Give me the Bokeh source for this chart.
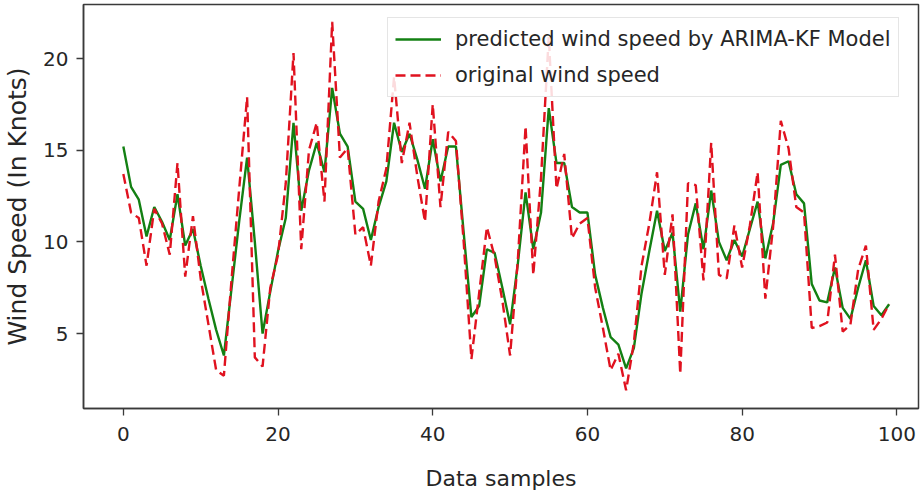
from bokeh.plotting import figure
from bokeh.models import Range1d, Legend, LegendItem, FixedTicker
from bokeh.embed import file_html
from bokeh.resources import INLINE

predicted = [15.2, 13.0, 12.3, 10.3, 11.9, 11.1, 10.1, 12.6, 9.8, 10.7,
             8.7, 6.9, 5.2, 3.8, 7.5, 11.2, 14.6, 10.0, 5.0, 7.3,
             9.5, 11.3, 16.5, 11.7, 13.9, 15.4, 13.8, 18.4, 15.9, 15.2,
             12.2, 11.8, 10.1, 11.9, 13.3, 16.5, 14.9, 15.9, 14.5, 12.9,
             15.6, 13.3, 15.2, 15.2, 10.5, 5.9, 6.5, 9.6, 9.4, 7.5,
             5.5, 8.8, 12.7, 9.6, 11.6, 17.3, 14.3, 14.3, 11.9, 11.6,
             11.6, 8.2, 6.4, 4.8, 4.4, 3.1, 4.2, 7.2, 9.5, 11.7,
             9.5, 10.5, 6.2, 10.4, 12.1, 9.6, 12.8, 10.0, 9.0, 10.1,
             9.2, 10.7, 12.2, 9.1, 11.0, 14.2, 14.4, 12.6, 12.1, 7.7,
             6.8, 6.7, 8.6, 6.4, 5.8, 7.5, 9.0, 6.5, 6.0, 6.6]

original = [13.7, 11.6, 11.3, 8.7, 11.8, 11.0, 9.3, 14.3, 8.1, 11.4,
            8.0, 5.5, 3.0, 2.7, 8.0, 13.0, 17.9, 3.7, 3.2, 7.5,
            9.3, 13.2, 20.3, 9.6, 15.0, 16.5, 12.2, 22.0, 14.6, 15.1,
            10.4, 10.8, 8.7, 12.2, 14.0, 19.0, 14.3, 16.5, 13.6, 11.1,
            17.5, 11.9, 16.0, 15.5, 10.0, 3.6, 7.2, 10.8, 9.2, 6.8,
            3.8, 9.0, 16.3, 8.2, 13.5, 21.2, 12.9, 14.8, 10.2, 11.0,
            11.3, 7.5, 5.3, 3.0, 3.9, 1.9, 4.5, 8.7, 11.0, 13.8,
            8.2, 11.5, 2.8, 13.2, 13.1, 7.9, 15.4, 8.2, 8.0, 10.9,
            8.6, 10.9, 13.8, 6.9, 10.8, 16.6, 15.1, 11.9, 11.6, 5.3,
            5.4, 5.6, 9.3, 5.1, 5.5, 8.5, 9.8, 5.2, 5.8, 6.6]

samples = list(range(len(predicted)))
x_ticks = [0, 20, 40, 60, 80, 100]
y_ticks = [5, 10, 15, 20]

label_pred = "predicted wind speed by ARIMA-KF Model"
label_orig = "original wind speed"

p = figure(width=922, height=497, output_backend="svg", toolbar_location=None,
           x_range=Range1d(-5.15, 102.8), y_range=Range1d(0.91, 22.95),
           min_border_left=80, min_border_right=4, min_border_top=4,
           min_border_bottom=89)
p.background_fill_color = "white"
p.border_fill_color = "white"
p.grid.visible = False
p.outline_line_color = "#3a3a3a"
p.outline_line_width = 1.5

r_pred = p.line(samples, predicted, line_color="#138013", line_width=2.4)
r_orig = p.line(samples, original, line_color="#e0121f", line_width=2.4,
                line_dash="10 5")

for ax in (p.xaxis[0], p.yaxis[0]):
    ax.axis_line_color = "#3a3a3a"
    ax.axis_line_width = 1.5
    ax.major_tick_line_color = "#3a3a3a"
    ax.major_tick_line_width = 1.3
    ax.major_tick_out = 7
    ax.major_tick_in = 0
    ax.minor_tick_line_color = None
    ax.major_label_text_font = "DejaVu Sans"
    ax.major_label_text_font_size = "20px"
    ax.major_label_text_color = "#262626"
    ax.axis_label_text_font = "DejaVu Sans"
    ax.axis_label_text_font_style = "normal"
    ax.axis_label_text_color = "#262626"

p.xaxis.ticker = FixedTicker(ticks=x_ticks)
p.yaxis.ticker = FixedTicker(ticks=y_ticks)
p.xaxis.axis_label = "Data samples"
p.yaxis.axis_label = "Wind Speed (In Knots)"
p.xaxis.axis_label_text_font_size = "22px"
p.yaxis.axis_label_text_font_size = "25px"
p.xaxis.major_label_standoff = 11
p.yaxis.major_label_standoff = 8
p.xaxis.axis_label_standoff = 22
p.yaxis.axis_label_standoff = 8

legend = Legend(items=[LegendItem(label=label_pred, renderers=[r_pred]),
                       LegendItem(label=label_orig, renderers=[r_orig])],
                location=(304, 311), margin=0)
legend.label_text_font = "DejaVu Sans"
legend.label_text_font_size = "21px"
legend.label_text_color = "#262626"
legend.glyph_width = 46
legend.glyph_height = 28
legend.label_height = 28
legend.label_standoff = 14
legend.spacing = 8
legend.padding = 7
legend.border_line_color = "#cccccc"
legend.border_line_width = 1.5
legend.background_fill_alpha = 0.85
p.add_layout(legend)

open("out.html", "w").write(file_html(p, INLINE))
